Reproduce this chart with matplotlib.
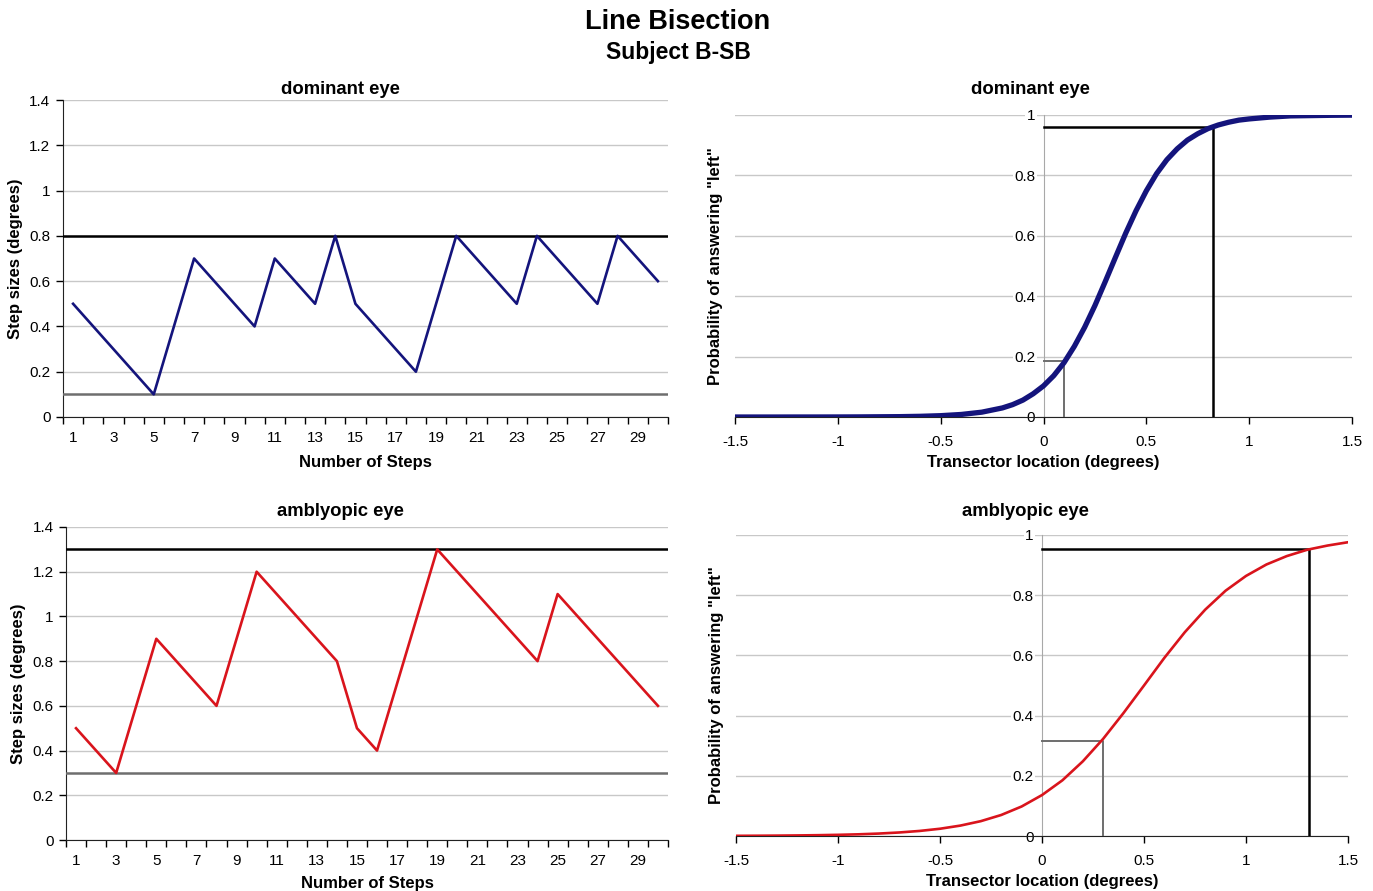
import matplotlib
matplotlib.use("Agg")
import matplotlib.pyplot as plt
from matplotlib.ticker import FixedLocator, FuncFormatter

plt.rcParams['font.family'] = ['Liberation Sans', 'DejaVu Sans']

#-----data-----

steps = list(range(1, 31))

dominantSteps = [0.5, 0.4, 0.3, 0.2, 0.1, 0.4, 0.7, 0.6, 0.5, 0.4,
                 0.7, 0.6, 0.5, 0.8, 0.5, 0.4, 0.3, 0.2, 0.5, 0.8,
                 0.7, 0.6, 0.5, 0.8, 0.7, 0.6, 0.5, 0.8, 0.7, 0.6]
dominantUpper = 0.8
dominantLower = 0.1

amblyopicSteps = [0.5, 0.4, 0.3, 0.6, 0.9, 0.8, 0.7, 0.6, 0.9, 1.2,
                  1.1, 1.0, 0.9, 0.8, 0.5, 0.4, 0.7, 1.0, 1.3, 1.2,
                  1.1, 1.0, 0.9, 0.8, 1.1, 1.0, 0.9, 0.8, 0.7, 0.6]
amblyopicUpper = 1.3
amblyopicLower = 0.3

stepTicks = [0, 0.2, 0.4, 0.6, 0.8, 1.0, 1.2, 1.4]
probTicks = [0, 0.2, 0.4, 0.6, 0.8, 1.0]
locTicks = [-1.5, -1.0, -0.5, 0, 0.5, 1.0, 1.5]

# psychometric curves
dominantX = [-1.5, -1.4, -1.3, -1.2, -1.1, -1.0, -0.9, -0.8, -0.7, -0.6,
             -0.5, -0.4, -0.3, -0.2, -0.15, -0.1, -0.05, 0.0, 0.05, 0.1,
             0.15, 0.2, 0.25, 0.3, 0.35, 0.4, 0.45, 0.5, 0.55, 0.6,
             0.65, 0.7, 0.75, 0.8, 0.85, 0.9, 0.95, 1.0, 1.1, 1.2,
             1.3, 1.4, 1.5]
dominantY = [0.0, 0.0, 0.0, 0.0001, 0.0001, 0.0002, 0.0004, 0.0008, 0.0012, 0.0023,
             0.0044, 0.0084, 0.016, 0.030, 0.041, 0.056, 0.077, 0.103, 0.137, 0.180,
             0.234, 0.297, 0.369, 0.448, 0.529, 0.609, 0.683, 0.749, 0.806, 0.852,
             0.888, 0.917, 0.938, 0.955, 0.967, 0.976, 0.983, 0.987, 0.993, 0.997,
             0.998, 0.999, 0.9995]
dominantPSE = [0.1, 0.186]
dominantLimit = [0.822, 0.959]

amblyopicX = [-1.5, -1.4, -1.3, -1.2, -1.1, -1.0, -0.9, -0.8, -0.7, -0.6,
              -0.5, -0.4, -0.3, -0.2, -0.1, 0.0, 0.1, 0.2, 0.3, 0.4,
              0.5, 0.6, 0.7, 0.8, 0.9, 1.0, 1.1, 1.2, 1.3, 1.4, 1.5]
amblyopicY = [0.0006, 0.0009, 0.0013, 0.0019, 0.0027, 0.0039, 0.0056, 0.0081, 0.0117, 0.0168,
              0.0241, 0.0346, 0.0493, 0.0698, 0.098, 0.136, 0.185, 0.248, 0.323, 0.409,
              0.5, 0.592, 0.677, 0.752, 0.815, 0.864, 0.902, 0.930, 0.951, 0.965, 0.976]
amblyopicPSE = [0.3, 0.316]
amblyopicLimit = [1.31, 0.953]

navy = '#14147c'
red = '#d9141c'
gridColor = '#c8c8c8'
refGray = '#6e6e6e'

W, H = 1373, 891
fig = plt.figure(figsize=(W / 100, H / 100), dpi=100)
fmt = FuncFormatter(lambda v, p: '%g' % round(v, 2))

def box(x0, x1, y0, y1):
    # pixel box -> figure fraction
    return [x0 / W, 1 - y1 / H, (x1 - x0) / W, (y1 - y0) / H]

#-----step plots-----

def step_plot(rect, values, upper, lower, color, title, titleXY, xlabY):
    ax = fig.add_axes(rect)
    ax.plot(steps, values, color=color, lw=1.9, zorder=4)
    ax.axhline(upper, color='black', lw=1.8, zorder=3)
    ax.axhline(lower, color=refGray, lw=1.8, zorder=3)
    ax.set_xlim(0.5, 30.5)
    ax.set_ylim(0, 1.4)
    ax.set_yticks(stepTicks)
    ax.yaxis.set_major_formatter(fmt)
    ax.grid(axis='y', color=gridColor, lw=1)
    ax.set_axisbelow(True)
    ax.set_xticks(steps[::2])
    ax.xaxis.set_minor_locator(FixedLocator([s + 0.5 for s in range(0, 31)]))
    ax.tick_params(axis='x', which='major', length=0, pad=10, labelsize=11)
    ax.tick_params(axis='x', which='minor', length=5, width=1, direction='out')
    ax.tick_params(axis='y', length=5, width=1, direction='out', labelsize=11, pad=4)
    for s in ['top', 'right']:
        ax.spines[s].set_visible(False)
    for s in ['left', 'bottom']:
        ax.spines[s].set_color('#222222')
    ax.set_xlabel('Number of Steps', fontsize=12, fontweight='bold')
    ax.xaxis.set_label_coords(0.5, xlabY)
    ax.set_ylabel('Step sizes (degrees)', fontsize=12, fontweight='bold')
    ax.yaxis.set_label_coords(-0.066, 0.5)
    fig.text(titleXY[0] / W, 1 - titleXY[1] / H, title, ha='center', va='center',
             fontsize=13.3, fontweight='bold')
    return ax

step_plot(box(63, 668, 100, 417), dominantSteps, dominantUpper, dominantLower,
          navy, 'dominant eye', (340, 90), -0.12)
step_plot(box(66, 668, 527, 840), amblyopicSteps, amblyopicUpper, amblyopicLower,
          red, 'amblyopic eye', (340, 512), -0.115)

#-----psychometric curves-----

def curve_plot(rect, xs, ys, pse, limit, color, lw, title, titleXY, xlabY):
    ax = fig.add_axes(rect)
    ax.plot(xs, ys, color=color, lw=lw, zorder=5, solid_capstyle='round')
    ax.plot([0, limit[0], limit[0]], [limit[1], limit[1], 0], color='black', lw=1.8, zorder=4)
    ax.plot([0, pse[0], pse[0]], [pse[1], pse[1], 0], color=refGray, lw=1.4, zorder=4)
    ax.set_xlim(-1.5, 1.5)
    ax.set_ylim(0, 1.0)
    ax.set_xticks(locTicks)
    ax.xaxis.set_major_formatter(fmt)
    ax.set_yticks(probTicks)
    ax.yaxis.set_major_formatter(fmt)
    ax.grid(axis='y', color=gridColor, lw=1)
    ax.set_axisbelow(True)
    ax.spines['left'].set_position(('data', 0))
    ax.spines['left'].set_color('#a8a8a8')
    ax.spines['left'].set_zorder(1)
    ax.spines['bottom'].set_color('#222222')
    for s in ['top', 'right']:
        ax.spines[s].set_visible(False)
    ax.tick_params(axis='x', length=5, width=1, direction='out', labelsize=11, pad=8)
    ax.tick_params(axis='y', length=0, labelsize=11, pad=6)
    for lbl in ax.get_yticklabels():
        lbl.set_bbox(dict(facecolor='white', edgecolor='none', pad=1))
    ax.set_xlabel('Transector location (degrees)', fontsize=12, fontweight='bold')
    ax.xaxis.set_label_coords(0.5, xlabY)
    ax.set_ylabel('Probability of answering "left"', fontsize=12, fontweight='bold')
    ax.yaxis.set_label_coords(-0.02, 0.5)
    fig.text(titleXY[0] / W, 1 - titleXY[1] / H, title, ha='center', va='center',
             fontsize=13.3, fontweight='bold')
    return ax

curve_plot(box(735, 1352, 115, 417), dominantX, dominantY, dominantPSE, dominantLimit,
           navy, 3.8, 'dominant eye', (1030, 90), -0.125)
curve_plot(box(736, 1348, 535, 836), amblyopicX, amblyopicY, amblyopicPSE, amblyopicLimit,
           red, 1.9, 'amblyopic eye', (1025, 512), -0.125)

#-----main title-----

fig.text(678 / W, 1 - 22 / H, 'Line Bisection', ha='center', va='center',
         fontsize=19.5, fontweight='bold')
fig.text(678 / W, 1 - 52 / H, 'Subject B-SB', ha='center', va='center',
         fontsize=16.5, fontweight='bold')

fig.savefig('out.png', dpi=100)
